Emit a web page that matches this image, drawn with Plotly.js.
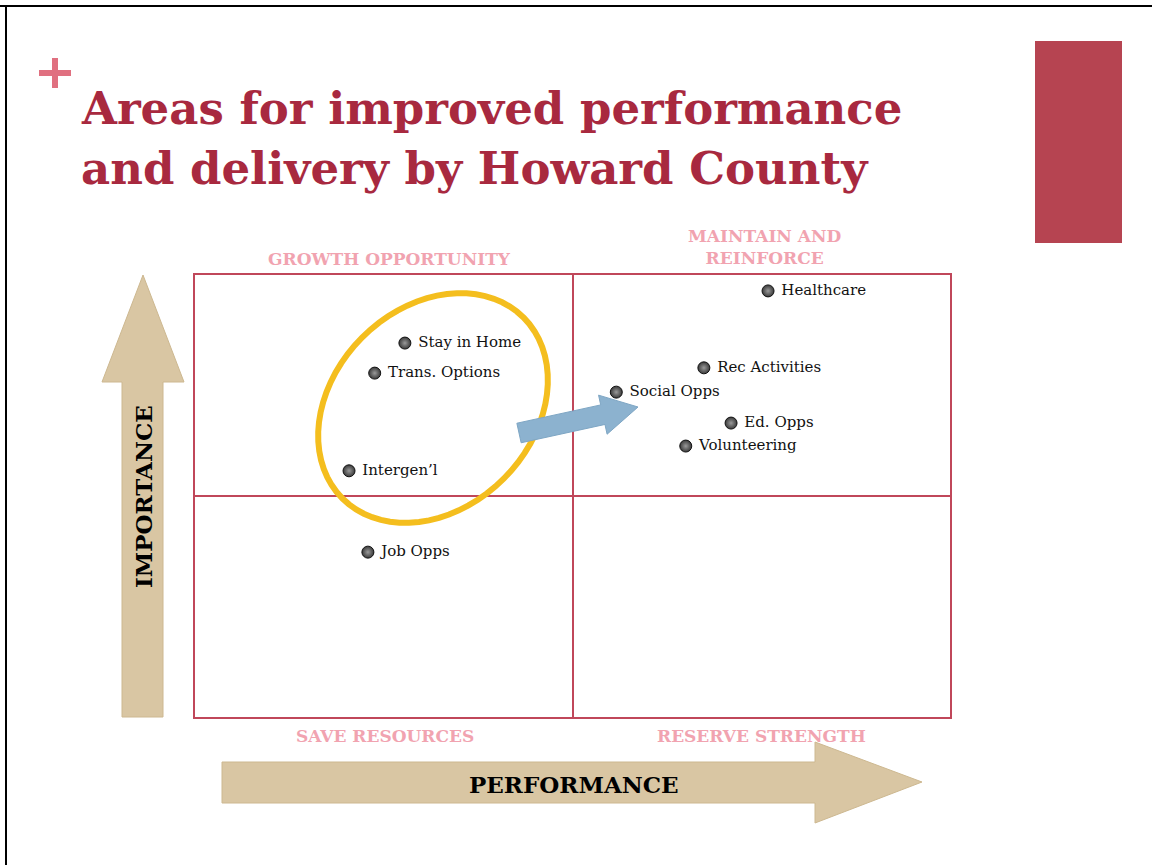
<!DOCTYPE html>
<html>
<head>
<meta charset="utf-8">
<script src="https://cdn.plot.ly/plotly-3.0.1.min.js"></script>
<style>
  html, body { margin: 0; padding: 0; background: #fff; }
  #chart { width: 1152px; height: 865px; }
</style>
</head>
<body>
<div id="chart"></div>
<script>
// services placed on the performance / importance grid (0-10 each way)
var services = ["Stay in Home", "Trans. Options", "Intergen\u2019l", "Job Opps",
                "Healthcare", "Rec Activities", "Social Opps", "Ed. Opps", "Volunteering"];
var performance = [2.78, 2.38, 2.04, 2.29, 7.59, 6.74, 5.58, 7.10, 6.50];
var importance  = [8.46, 7.78, 5.57, 3.73, 9.64, 7.90, 7.35, 6.65, 6.13];

var quadrantLabels = ["GROWTH OPPORTUNITY", "MAINTAIN AND<br>REINFORCE", "SAVE RESOURCES", "RESERVE STRENGTH"];

// plot box in page pixels, used to place the decorations
var L = 195, R = 950, T = 275, B = 717;
function px(x) { return (x - L) / (R - L); }
function py(y) { return (B - y) / (B - T); }
function poly(pts) {
    return "M" + pts.map(function (p) { return px(p[0]) + "," + py(p[1]); }).join(" L") + " Z";
}

// yellow ring around the growth group
function ellipse(cx, cy, a, b, ang) {
    var pts = [];
    for (var i = 0; i < 72; i++) {
        var t = i / 72 * 2 * Math.PI;
        var ex = a * Math.cos(t), ey = b * Math.sin(t);
        pts.push([cx + ex * Math.cos(ang) - ey * Math.sin(ang),
                  cy - (ex * Math.sin(ang) + ey * Math.cos(ang))]);
    }
    return poly(pts);
}

// blue arrow pointing into the top right quadrant
function arrow(x0, y0, x1, y1, shaftHalf, headHalf, headLen) {
    var dx = x1 - x0, dy = y1 - y0, len = Math.sqrt(dx * dx + dy * dy);
    var ux = dx / len, uy = dy / len, nx = -uy, ny = ux;
    var bx = x1 - ux * headLen, by = y1 - uy * headLen;
    return poly([
        [x0 + nx * shaftHalf, y0 + ny * shaftHalf],
        [bx + nx * shaftHalf, by + ny * shaftHalf],
        [bx + nx * headHalf, by + ny * headHalf],
        [x1, y1],
        [bx - nx * headHalf, by - ny * headHalf],
        [bx - nx * shaftHalf, by - ny * shaftHalf],
        [x0 - nx * shaftHalf, y0 - ny * shaftHalf]
    ]);
}

var tan = "#D9C6A3";
var shapes = [
    // page frame
    {type: "line", xref: "paper", yref: "paper", x0: px(0), x1: px(1152), y0: py(6), y1: py(6), line: {color: "#000", width: 2}},
    {type: "line", xref: "paper", yref: "paper", x0: px(6), x1: px(6), y0: py(6), y1: py(865), line: {color: "#000", width: 2}},
    // red block and plus mark
    {type: "rect", xref: "paper", yref: "paper", x0: px(1035), x1: px(1122), y0: py(41), y1: py(243), fillcolor: "#B64451", line: {width: 0}},
    {type: "rect", xref: "paper", yref: "paper", x0: px(39), x1: px(71), y0: py(70), y1: py(76), fillcolor: "#E07080", line: {width: 0}},
    {type: "rect", xref: "paper", yref: "paper", x0: px(52), x1: px(58), y0: py(58), y1: py(88), fillcolor: "#E07080", line: {width: 0}},
    // tan axis arrows
    {type: "path", xref: "paper", yref: "paper", layer: "below",
     path: poly([[122, 717], [122, 382], [102, 382], [143, 275], [184, 382], [163, 382], [163, 717]]),
     fillcolor: tan, line: {color: "#CDB890", width: 1}},
    {type: "path", xref: "paper", yref: "paper", layer: "below",
     path: poly([[222, 762], [815, 762], [815, 742], [922, 782], [815, 823], [815, 803], [222, 803]]),
     fillcolor: tan, line: {color: "#CDB890", width: 1}},
    // ring and arrow
    {type: "path", xref: "paper", yref: "paper", path: ellipse(433, 408, 128, 100, Math.PI / 4),
     line: {color: "#F4BE1E", width: 6}},
    {type: "path", xref: "paper", yref: "paper", path: arrow(519, 433, 638, 407, 10, 20, 36),
     fillcolor: "#8CB2CF", line: {color: "#7EA6C4", width: 1}}
];

function note(x, y, text, font, extra) {
    var a = {xref: "paper", yref: "paper", x: px(x), y: py(y), xanchor: "center", yanchor: "middle",
             showarrow: false, text: text, font: font};
    for (var k in extra) a[k] = extra[k];
    return a;
}

var titleFont = {family: "DejaVu Serif", size: 45, color: "#A8293F"};
var labelFont = {family: "DejaVu Serif", size: 17, color: "#F1A3B0"};
var annotations = [
    note(79, 108, "<b>Areas for improved performance</b>", titleFont, {xanchor: "left"}),
    note(79, 168, "<b>and delivery by Howard County</b>", titleFont, {xanchor: "left"}),
    note(389, 259, "<b>" + quadrantLabels[0] + "</b>", labelFont),
    note(765, 247, "<b>" + quadrantLabels[1] + "</b>", labelFont),
    note(385, 736, "<b>" + quadrantLabels[2] + "</b>", labelFont),
    note(761, 736, "<b>" + quadrantLabels[3] + "</b>", labelFont),
    note(143, 497, "<b>IMPORTANCE</b>", {family: "DejaVu Serif", size: 23, color: "#000"}, {textangle: -90}),
    note(574, 784, "<b>PERFORMANCE</b>", {family: "DejaVu Serif", size: 23, color: "#000"})
];

var data = [{
    x: performance, y: importance, text: services,
    type: "scatter", mode: "markers+text", textposition: "middle right",
    texttemplate: " %{text}",
    marker: {size: 12, color: "#3a3a3a", gradient: {type: "radial", color: "#9a9a9a"}, line: {color: "#111", width: 1}},
    textfont: {family: "DejaVu Serif", size: 15, color: "#111"},
    cliponaxis: false, hoverinfo: "text"
}];

var axisStyle = {
    range: [0, 10], dtick: 5, showgrid: true, gridcolor: "#C0475A", gridwidth: 2,
    zeroline: false, showline: true, mirror: true, linecolor: "#C0475A", linewidth: 2,
    showticklabels: false, ticks: "", fixedrange: true
};

var layout = {
    width: 1152, height: 865,
    margin: {l: L, r: 1152 - R, t: T, b: 865 - B},
    paper_bgcolor: "#fff", plot_bgcolor: "#fff",
    showlegend: false,
    xaxis: axisStyle, yaxis: axisStyle,
    shapes: shapes, annotations: annotations
};

Plotly.newPlot("chart", data, layout, {displayModeBar: false, staticPlot: true});
</script>
</body>
</html>
